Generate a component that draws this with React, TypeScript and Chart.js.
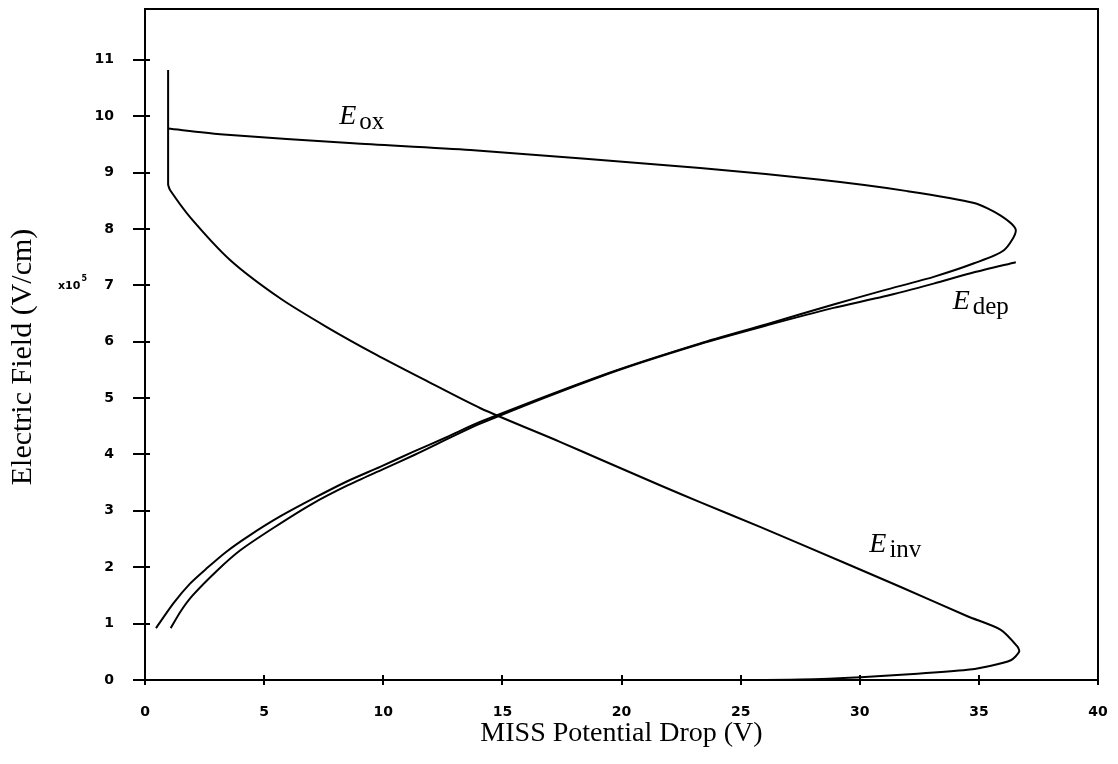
import React, { useEffect, useRef } from "react";
import { Chart, registerables } from "chart.js";

Chart.register(...registerables);

// ---- Axis ticks ----
const X_TICKS = [0, 5, 10, 15, 20, 25, 30, 35, 40];
const Y_TICKS = [0, 1, 2, 3, 4, 5, 6, 7, 8, 9, 10, 11];
const X_TITLE = "MISS Potential Drop (V)";
const Y_TITLE = "Electric Field (V/cm)";
const Y_EXPONENT_BASE = "x10";
const Y_EXPONENT_POWER = "5";
const Y_EXPONENT_AT = 7;

// ---- Series (x = potential drop in V, y = field in 1e5 V/cm) ----
// shared vertical segment at the low-voltage end
const startX = [0.97, 0.97];
const startY = [10.82, 8.78];

// E_ox : upper branch, turning point, lower branch back to low voltage
const eoxX = [0.97, 3.15, 8.74, 13.66, 23.3, 28.36, 32.0, 34.8, 35.9, 36.55, 36.05, 34.8, 33.1, 31.0, 28.9, 26.1, 23.3, 19.5, 14.08, 12.68, 11.27, 9.87, 8.47, 7.07, 5.67, 4.41, 3.43, 2.59, 1.89, 1.19, 0.46];
const eoxY = [9.78, 9.68, 9.52, 9.40, 9.08, 8.87, 8.67, 8.46, 8.24, 7.98, 7.62, 7.39, 7.15, 6.91, 6.66, 6.31, 5.97, 5.45, 4.58, 4.31, 4.05, 3.78, 3.52, 3.22, 2.90, 2.57, 2.28, 1.98, 1.71, 1.36, 0.92];

// E_dep
const edepX = [1.08, 1.5, 2.0, 3.0, 4.0, 5.4, 7.0, 8.5, 10.0, 11.3, 14.1, 19.5, 23.3, 26.1, 28.9, 31.0, 33.1, 34.8, 36.55];
const edepY = [0.92, 1.22, 1.50, 1.93, 2.30, 2.70, 3.12, 3.45, 3.74, 3.99, 4.55, 5.44, 5.96, 6.29, 6.60, 6.80, 7.03, 7.23, 7.41];

// E_inv
const einvX = [0.97, 1.05, 1.89, 3.57, 5.67, 7.63, 9.7, 11.7, 14.08, 17.44, 19.12, 21.64, 23.32, 25.84, 27.52, 31.72, 34.52, 35.92, 36.62, 36.69, 36.34, 35.36, 34.52, 32.42, 30.04, 27.52, 25.0];
const einvY = [8.78, 8.69, 8.21, 7.45, 6.77, 6.26, 5.77, 5.33, 4.82, 4.22, 3.91, 3.45, 3.15, 2.71, 2.41, 1.65, 1.13, 0.89, 0.59, 0.50, 0.35, 0.24, 0.18, 0.11, 0.05, 0.01, 0.0];

// curve labels: main letter, subscript, anchor (x, y = baseline of main letter)
const labelMain = ["E", "E", "E"];
const labelSub = ["ox", "dep", "inv"];
const labelX = [8.15, 33.9, 30.4];
const labelY = [9.86, 6.58, 2.27];

const toPts = (xs: number[], ys: number[]) => xs.map((x, i) => ({ x, y: ys[i] }));

const framePlugin = {
  id: "framePlugin",
  afterDatasetsDraw(chart: any) {
    const { ctx, chartArea } = chart;
    const xs = chart.scales.x;
    const ys = chart.scales.y;
    const { left, right, top, bottom } = chartArea;
    ctx.save();
    ctx.strokeStyle = "#000";
    ctx.lineWidth = 2;
    ctx.beginPath();
    ctx.rect(left, top, right - left, bottom - top);
    ctx.stroke();
    ctx.beginPath();
    Y_TICKS.forEach((v) => {
      const py = Math.round(ys.getPixelForValue(v));
      ctx.moveTo(left - 12, py);
      ctx.lineTo(left + 5, py);
    });
    X_TICKS.forEach((v) => {
      const px = Math.round(xs.getPixelForValue(v));
      ctx.moveTo(px, bottom - 5);
      ctx.lineTo(px, bottom + 5);
    });
    ctx.stroke();

    ctx.fillStyle = "#000";

    // y-axis title
    ctx.save();
    ctx.translate(23, 357);
    ctx.rotate(-Math.PI / 2);
    ctx.textAlign = "center";
    ctx.textBaseline = "middle";
    ctx.font = "30px 'Liberation Serif'";
    ctx.fillText(Y_TITLE, 0, 0);
    ctx.restore();

    // exponent label
    ctx.textBaseline = "alphabetic";
    ctx.textAlign = "left";
    const ey = ys.getPixelForValue(Y_EXPONENT_AT) + 4;
    ctx.font = "bold 11px 'DejaVu Sans'";
    ctx.fillText(Y_EXPONENT_BASE, left - 87, ey);
    const w = ctx.measureText(Y_EXPONENT_BASE).width;
    ctx.font = "bold 8px 'DejaVu Sans'";
    ctx.fillText(Y_EXPONENT_POWER, left - 87 + w + 1, ey - 8);

    // curve labels
    labelMain.forEach((m, i) => {
      const px = xs.getPixelForValue(labelX[i]);
      const py = ys.getPixelForValue(labelY[i]);
      ctx.font = "italic 28px 'Liberation Serif'";
      ctx.fillText(m, px, py);
      const mw = ctx.measureText(m).width;
      ctx.font = "25px 'Liberation Serif'";
      ctx.fillText(labelSub[i], px + mw + 3, py + 5);
    });
    ctx.restore();
  },
};

const zeroPad = (s: any) => {
  s.paddingTop = 0;
  s.paddingBottom = 0;
  s.paddingLeft = 0;
  s.paddingRight = 0;
};

export default function App() {
  const ref = useRef<HTMLCanvasElement | null>(null);
  useEffect(() => {
    if (!ref.current) return;
    const lineDs = (pts: any[], tension: number) => ({
      data: pts,
      showLine: true,
      borderColor: "#000",
      backgroundColor: "#000",
      borderWidth: 2,
      pointRadius: 0,
      tension,
      fill: false,
    });
    const chart = new Chart(ref.current, {
      type: "scatter",
      data: {
        datasets: [
          lineDs(toPts(startX, startY), 0),
          lineDs(toPts(eoxX, eoxY), 0.25),
          lineDs(toPts(edepX, edepY), 0.25),
          lineDs(toPts(einvX, einvY), 0.25),
        ],
      },
      options: {
        responsive: false,
        animation: false,
        layout: { padding: { top: 9, right: 20, left: 0, bottom: 0 } },
        plugins: { legend: { display: false }, tooltip: { enabled: false } },
        scales: {
          x: {
            type: "linear",
            position: "bottom",
            min: 0,
            max: 40,
            grid: { display: false },
            border: { display: false },
            ticks: {
              stepSize: 5,
              padding: 16,
              color: "#000",
              font: { family: "'DejaVu Sans'", weight: "bold", size: 14 },
            },
            title: {
              display: true,
              text: X_TITLE,
              color: "#000",
              font: { family: "'Liberation Serif'", size: 28 },
              padding: { top: 0, bottom: 14 },
            },
            afterBuildTicks: (s: any) => {
              s.ticks = X_TICKS.map((v) => ({ value: v }));
            },
            afterFit: (s: any) => {
              s.height = 84;
              zeroPad(s);
            },
          },
          y: {
            type: "linear",
            min: 0,
            max: 11.9,
            grid: { display: false },
            border: { display: false },
            ticks: {
              stepSize: 1,
              padding: 23,
              color: "#000",
              font: { family: "'DejaVu Sans'", weight: "bold", size: 14 },
            },
            title: { display: false },
            afterBuildTicks: (s: any) => {
              s.ticks = Y_TICKS.map((v) => ({ value: v }));
            },
            afterFit: (s: any) => {
              s.width = 145;
              zeroPad(s);
            },
          },
        },
      },
      plugins: [framePlugin],
    } as any);
    return () => chart.destroy();
  }, []);
  return (
    <div style={{ position: "fixed", left: 0, top: 0, width: 1118, height: 764, background: "#fff" }}>
      <canvas ref={ref} width={1118} height={764} style={{ display: "block" }} />
    </div>
  );
}
